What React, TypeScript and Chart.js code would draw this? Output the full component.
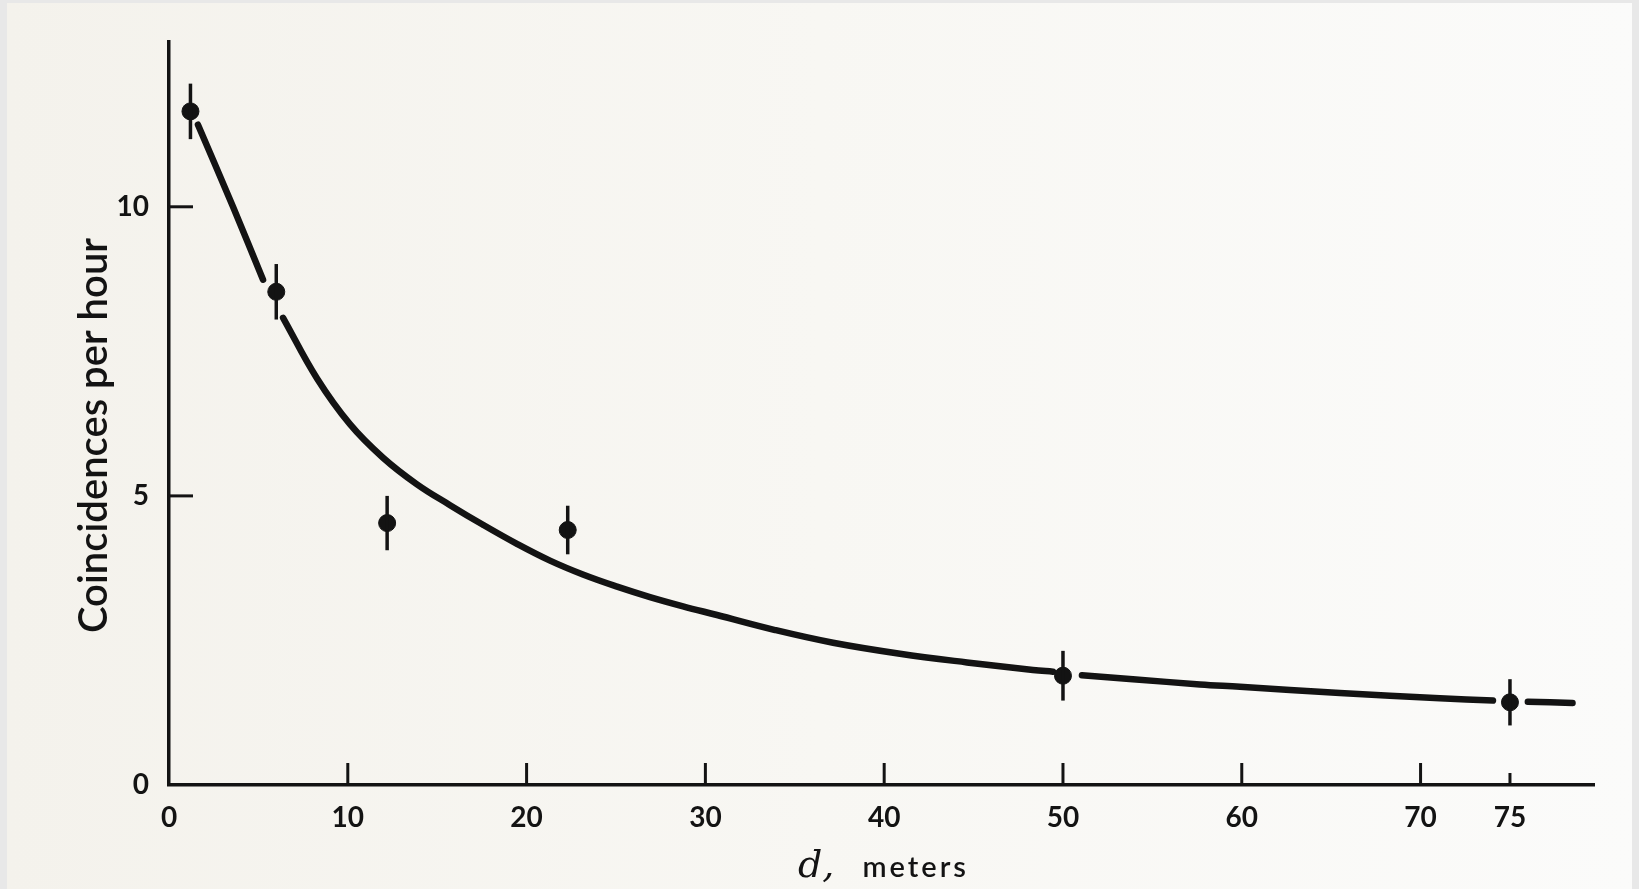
import React, { useEffect, useRef } from 'react';
import { Chart, registerables } from 'chart.js';

Chart.register(...registerables);

// Measured points (d in meters, coincidences per hour) with error half-widths
const distances = [1.2, 6.0, 12.2, 22.3, 50.0, 75.0];
const rates = [11.65, 8.53, 4.53, 4.41, 1.89, 1.43];
const errors = [0.48, 0.48, 0.47, 0.42, 0.43, 0.4];

// Hand-drawn smooth curve (null = break around a marker)
const curveD = [1.62, 3.58, 5.26, 5.8, 6.38, 8.28, 10.12, 11.97, 13.87, 15.72, 17.56, 19.46, 21.31, 23.15, 25.06, 26.9, 28.75, 30.65, 33.9, 37.14, 40.88, 44.63, 48.32, 49.44, 50.2, 51.06, 53.91, 57.66, 59.9, 65.49, 71.08, 74.05, 75.0, 76.0, 78.5];
const curveRate = [11.42, 10.0, 8.74, null, 8.08, 7.03, 6.24, 5.66, 5.2, 4.84, 4.5, 4.17, 3.88, 3.64, 3.43, 3.25, 3.09, 2.94, 2.68, 2.46, 2.27, 2.12, 1.99, 1.96, null, 1.9, 1.83, 1.74, 1.7, 1.59, 1.5, 1.46, null, 1.44, 1.42];

// Axis ticks
const xTickValues = [0, 10, 20, 30, 40, 50, 60, 70, 75];
const xTickMarks = [10, 20, 30, 40, 50, 60, 70, 75];
const yTickValues = [0, 5, 10];
const yTickMarks = [5, 10];

const xTitleVar = 'd,';
const xTitleUnit = 'meters';
const yTitle = 'Coincidences per hour';

export default function App() {
  const ref = useRef<HTMLCanvasElement>(null);

  useEffect(() => {
    const canvas = ref.current!;
    const ink = '#131313';

    const errorBars = {
      id: 'errorBars',
      afterDatasetsDraw(chart: any) {
        const { ctx, scales } = chart;
        const x = scales.x, y = scales.y;
        ctx.save();
        ctx.strokeStyle = ink;
        ctx.lineWidth = 3.5;
        ctx.lineCap = 'butt';
        distances.forEach((d, i) => {
          const px = x.getPixelForValue(d);
          ctx.beginPath();
          ctx.moveTo(px, y.getPixelForValue(rates[i] + errors[i]));
          ctx.lineTo(px, y.getPixelForValue(rates[i] - errors[i]));
          ctx.stroke();
        });
        ctx.restore();
      },
    };

    const tickMarks = {
      id: 'tickMarks',
      afterDraw(chart: any) {
        const { ctx, scales, chartArea } = chart;
        const x = scales.x, y = scales.y;
        ctx.save();
        ctx.strokeStyle = ink;
        ctx.lineWidth = 3;
        xTickMarks.forEach((v) => {
          const px = x.getPixelForValue(v);
          const len = v === 75 ? 12 : 22;
          ctx.beginPath();
          ctx.moveTo(px, chartArea.bottom);
          ctx.lineTo(px, chartArea.bottom - len);
          ctx.stroke();
        });
        yTickMarks.forEach((v) => {
          const py = y.getPixelForValue(v);
          ctx.beginPath();
          ctx.moveTo(chartArea.left, py);
          ctx.lineTo(chartArea.left + 24, py);
          ctx.stroke();
        });
        ctx.restore();
      },
    };

    const titles = {
      id: 'titles',
      afterDraw(chart: any) {
        const { ctx, chartArea } = chart;
        ctx.save();
        ctx.fillStyle = ink;
        // y title (rotated)
        ctx.save();
        ctx.translate(107, (chartArea.top + chartArea.bottom) / 2 + 22);
        ctx.rotate(-Math.PI / 2);
        ctx.font = '600 40px Lato';
        ctx.textAlign = 'center';
        ctx.textBaseline = 'alphabetic';
        ctx.fillText(yTitle, 0, 0);
        ctx.restore();
        // x title: italic serif variable + sans unit
        const varFont = 'italic 38px "DejaVu Serif"';
        const unitFont = '600 29px Lato';
        ctx.font = varFont;
        const w1 = ctx.measureText(xTitleVar).width;
        ctx.font = unitFont;
        (ctx as any).letterSpacing = '3px';
        const w2 = ctx.measureText(xTitleUnit).width;
        const gap = 28;
        const total = w1 + gap + w2;
        const cx = (chartArea.left + chartArea.right) / 2 + 2;
        const startX = cx - total / 2;
        const baseY = 877;
        ctx.textAlign = 'left';
        ctx.textBaseline = 'alphabetic';
        (ctx as any).letterSpacing = '0px';
        ctx.font = varFont;
        ctx.fillText(xTitleVar, startX, baseY);
        ctx.font = unitFont;
        (ctx as any).letterSpacing = '3px';
        ctx.fillText(xTitleUnit, startX + w1 + gap, baseY);
        ctx.restore();
      },
    };

    const tickFont = { family: 'Lato', size: 28, weight: 'bold' as const };

    const chart = new Chart(canvas, {
      type: 'scatter',
      data: {
        datasets: [
          {
            label: 'measured',
            data: distances.map((d, i) => ({ x: d, y: rates[i] })),
            showLine: false,
            pointRadius: 8.5,
            pointBackgroundColor: ink,
            pointBorderColor: ink,
            pointBorderWidth: 1,
          },
          {
            label: 'curve',
            data: curveD.map((d, i) => ({ x: d, y: curveRate[i] as any })),
            showLine: true,
            spanGaps: false,
            pointRadius: 0,
            borderColor: ink,
            borderWidth: 6.5,
            borderCapStyle: 'round',
            borderJoinStyle: 'round',
            tension: 0.4,
          } as any,
        ],
      },
      options: {
        animation: false,
        responsive: false,
        maintainAspectRatio: false,
        layout: { padding: { left: 0, right: 45, top: 42, bottom: 0 } },
        plugins: {
          legend: { display: false },
          tooltip: { enabled: false },
        },
        scales: {
          x: {
            type: 'linear',
            position: 'bottom',
            min: 0,
            max: 79.7,
            grid: { display: false, drawTicks: false },
            border: { display: true, color: ink, width: 3.5 },
            ticks: {
              font: tickFont,
              color: ink,
              padding: 16,
              maxRotation: 0,
              autoSkip: false,
              callback: (v: any) => String(v),
            },
            afterBuildTicks: (s: any) => {
              s.ticks = xTickValues.map((v) => ({ value: v }));
            },
            afterFit: (s: any) => {
              s.height = 104;
            },
          },
          y: {
            type: 'linear',
            min: 0,
            max: 12.85,
            grid: { display: false, drawTicks: false },
            border: { display: true, color: ink, width: 3.5 },
            ticks: {
              font: tickFont,
              color: ink,
              padding: 20,
              autoSkip: false,
              callback: (v: any) => String(v),
            },
            afterBuildTicks: (s: any) => {
              s.ticks = yTickValues.map((v) => ({ value: v }));
            },
            afterFit: (s: any) => {
              s.width = 169;
            },
          },
        },
      },
      plugins: [errorBars, tickMarks, titles],
    });

    return () => chart.destroy();
  }, []);

  return (
    <div
      style={{
        position: 'fixed',
        left: 0,
        top: 0,
        width: 1639,
        height: 889,
        background: '#e8e8e8',
        overflow: 'hidden',
      }}
    >
      <div
        style={{
          position: 'absolute',
          left: 7,
          top: 3,
          right: 7,
          bottom: 0,
          background: 'linear-gradient(to right, #f4f2ec, #f8f7f3 50%, #fbfbfa)',
        }}
      />
      <canvas
        ref={ref}
        width={1639}
        height={889}
        style={{ position: 'absolute', left: 0, top: 0, width: 1639, height: 889 }}
      />
    </div>
  );
}
